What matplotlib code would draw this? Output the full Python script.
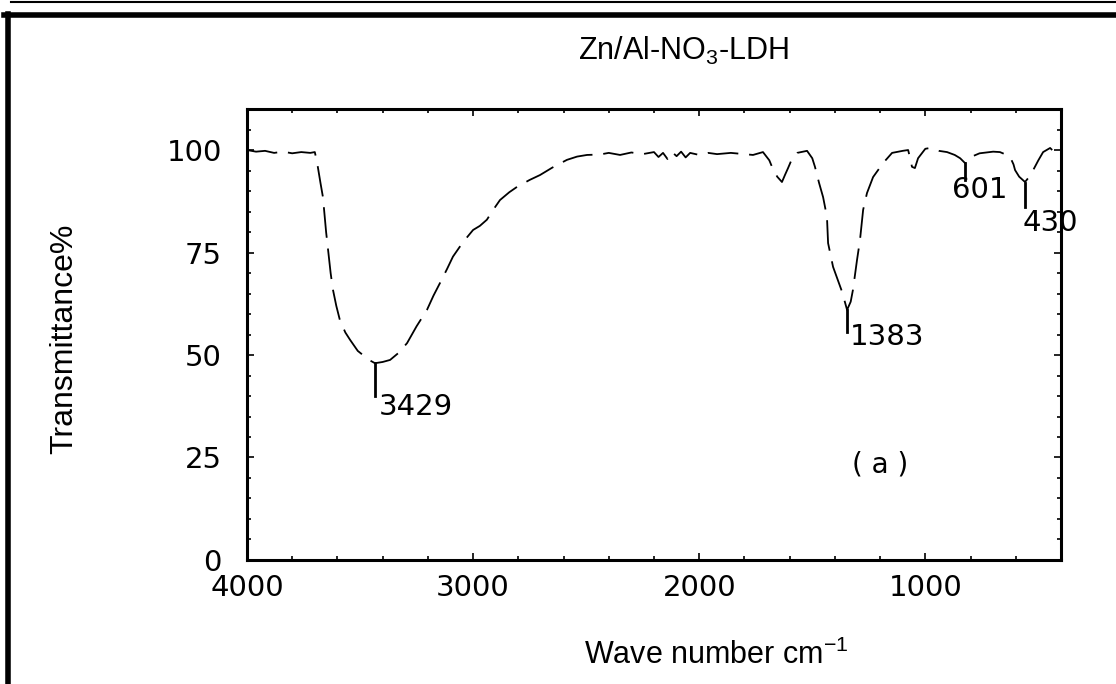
import matplotlib
matplotlib.use("Agg")
import matplotlib.pyplot as plt
from matplotlib.lines import Line2D

plt.rcParams['mathtext.fontset'] = 'custom'
plt.rcParams['mathtext.rm'] = 'Liberation Sans'
plt.rcParams['mathtext.it'] = 'Liberation Sans:italic'

# FTIR trace (wave number, transmittance %)
wavenumber = [4000, 3960, 3920, 3880, 3840, 3800, 3760, 3720, 3700, 3690, 3675, 3664,
              3650, 3640, 3630, 3620, 3605, 3589, 3565, 3544, 3510, 3487, 3460, 3434,
              3400, 3367, 3330, 3292, 3250, 3204, 3175, 3146, 3115, 3089, 3045, 3000,
              2970, 2939, 2910, 2881, 2840, 2806, 2750, 2704, 2650, 2585, 2540, 2496,
              2440, 2400, 2350, 2300, 2250, 2200, 2180, 2160, 2140, 2120, 2100, 2080,
              2060, 2040, 2000, 1960, 1921, 1860, 1800, 1762, 1718, 1690, 1678, 1655,
              1634, 1620, 1607, 1590, 1567, 1523, 1500, 1488, 1470, 1452, 1435, 1430,
              1408, 1385, 1368, 1346, 1330, 1320, 1302, 1289, 1275, 1258, 1231, 1187,
              1147, 1100, 1076, 1065, 1059, 1046, 1038, 1032, 1000, 979, 940, 904,
              870, 846, 824, 790, 760, 745, 700, 670, 640, 625, 610, 603,
              585, 559, 540, 523, 500, 479, 448, 426, 413, 400]
transmittance = [100, 99.6, 99.8, 99.3, 99.6, 99.2, 99.5, 99.3, 99.5, 97, 92, 88.5,
                 80, 75, 70, 66, 62, 58.5, 55.5, 53.7, 51, 50, 48.8, 48,
                 48.3, 48.8, 50.5, 52.9, 57, 61, 64.5, 67.6, 71, 74, 77.5, 80.5,
                 81.5, 83, 85.5, 87.8, 89.7, 91, 92.7, 93.9, 95.7, 97.6, 98.4, 98.8,
                 98.9, 99.3, 98.8, 99.4, 99.0, 99.5, 98.3, 99.3, 97.8, 99.5, 98.5, 99.6,
                 98.2, 99.3, 98.8, 99.3, 99, 99.3, 99.0, 98.8, 99.5, 97.5, 95.9, 93.5,
                 92.2, 94, 95.6, 97.8, 99.3, 99.8, 98, 95.9, 92, 88.5, 83.7, 77.3,
                 71.5, 68, 65.4, 61, 63, 65.9, 73.2, 78, 85.4, 89.5, 93.4, 96.8,
                 99.3, 99.8, 100, 97.5, 95.9, 95.6, 97, 98, 100.3, 100.5, 99.8, 99.5,
                 98.8, 98, 96.8, 98.5, 99.2, 99.3, 99.6, 99.5, 98.8, 98.3, 96.5, 95.1,
                 93.5, 92.2, 93.5, 95.1, 97.5, 99.5, 100.5, 99.3, 100, 99.8]

# peak markers: x, top, bottom of tick; label text, label x, label y
peak_x = [3434, 1346, 824, 559]
peak_top = [48, 61, 96.8, 92]
peak_bottom = [40, 55.6, 92.7, 86]
peak_labels = ["3429", "1383", "601", "430"]
label_x = [3255, 1170, 760, 445]
label_y = [37.3, 54.5, 90.2, 82.2]

fig = plt.figure(figsize=(11.16, 6.84), dpi=100)
ax = fig.add_axes([0.2213, 0.1813, 0.7294, 0.6593])

ax.plot(wavenumber, transmittance, color="black", lw=1.3, linestyle=(0, (17, 6)))
for x, t, b in zip(peak_x, peak_top, peak_bottom):
    ax.plot([x, x], [t, b], color="black", lw=2)
for s, x, y in zip(peak_labels, label_x, label_y):
    ax.text(x, y, s, ha="center", va="center", fontsize=21, family="DejaVu Sans")
ax.text(1200, 23.2, "( a )", ha="center", va="center", fontsize=20, family="DejaVu Sans")

ax.set_xlim(4000, 400)
ax.set_ylim(0, 110)
ax.set_xticks([4000, 3000, 2000, 1000])
ax.set_yticks([0, 25, 50, 75, 100])
ax.set_xticks(range(400, 4001, 200), minor=True)
ax.set_yticks(range(0, 111, 5), minor=True)
ax.tick_params(which="both", direction="in", top=True, right=True, labelsize=21, width=1.2)
ax.tick_params(which="major", length=5)
ax.tick_params(which="minor", length=3)
ax.tick_params(axis="y", pad=18)
ax.tick_params(axis="x", pad=10)
for lab in ax.get_xticklabels() + ax.get_yticklabels():
    lab.set_family("DejaVu Sans")
for sp in ax.spines.values():
    sp.set_linewidth(2.2)

fig.text(0.612, 0.925, "Zn/Al-NO$_\\mathregular{3}$-LDH", ha="center", va="center",
         fontsize=22, family="Liberation Sans")
fig.text(0.642, 0.042, "Wave number cm$^\\mathregular{-1}$", ha="center", va="center",
         fontsize=22, family="Liberation Sans")
fig.text(0.058, 0.505, "Transmittance%", rotation=90, ha="center", va="center",
         fontsize=23, family=["Liberation Sans Narrow", "Liberation Sans"])

# page frame
fig.add_artist(Line2D([0.01, 1], [0.997, 0.997], color="black", lw=1.5, transform=fig.transFigure))
fig.add_artist(Line2D([0.004, 1], [0.978, 0.978], color="black", lw=4, transform=fig.transFigure))
fig.add_artist(Line2D([0.007, 0.007], [0, 0.98], color="black", lw=4, transform=fig.transFigure))

fig.savefig("out.png", dpi=100)
